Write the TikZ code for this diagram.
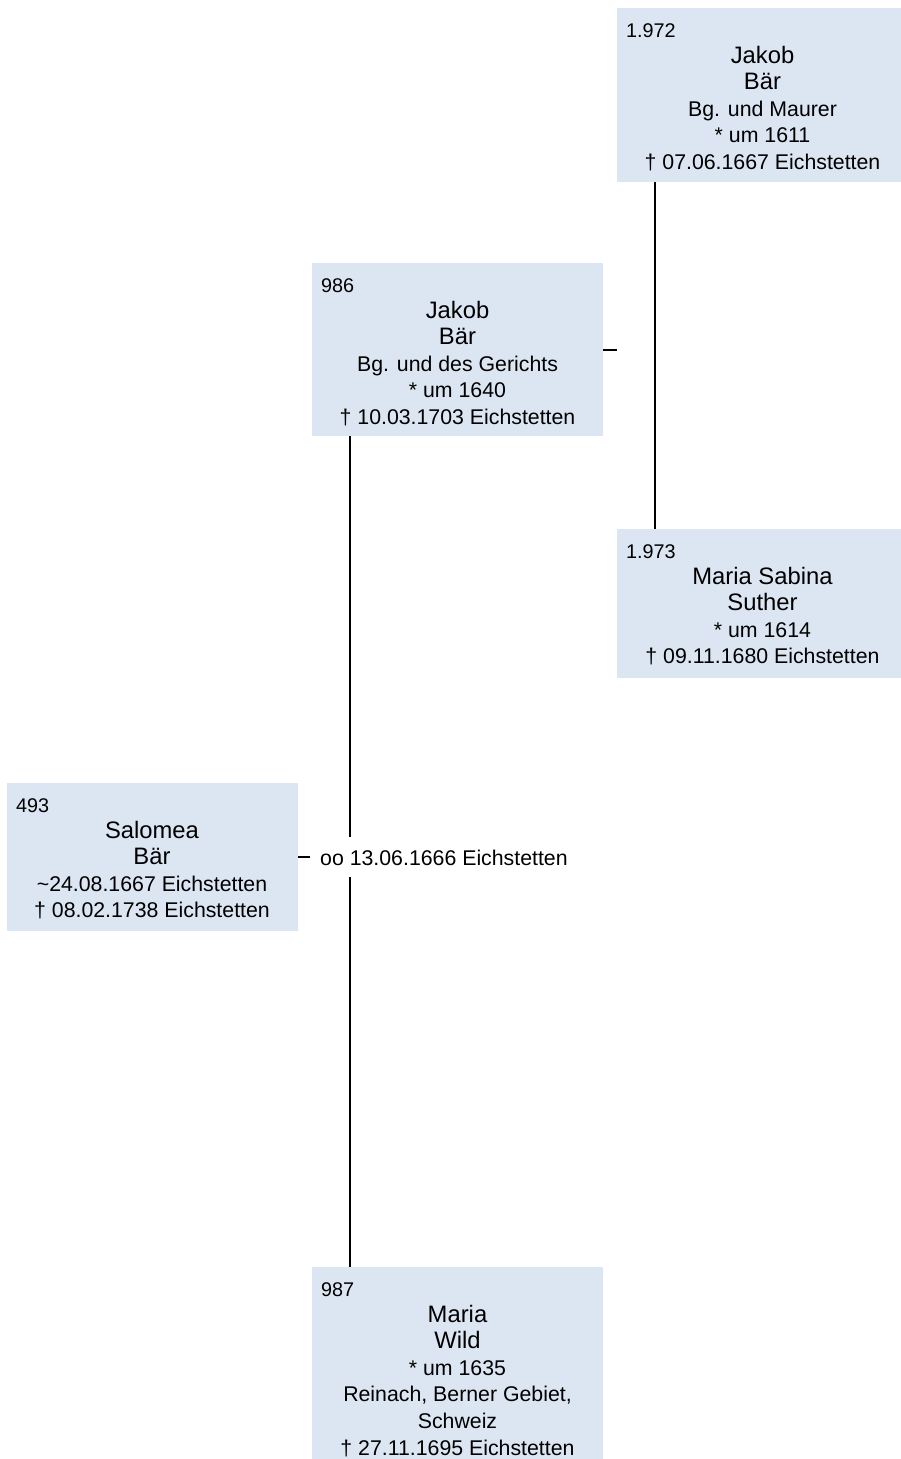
\documentclass[tikz,border=0pt]{standalone}
\usepackage{fontspec}
\setmainfont{Liberation Sans}
\definecolor{boxfill}{RGB}{220,230,242}
\newcommand\fnm{\fontsize{23.8}{27}\selectfont}
\newcommand\fdt{\fontsize{21.3}{25}\selectfont}
\newcommand\fnb{\fontsize{19.8}{24}\selectfont}
\tikzset{
  pbox/.style={fill=boxfill, draw=none, anchor=north west, inner sep=0pt, minimum width=291pt},
  numtxt/.style={anchor=base west, inner sep=0pt, font=\fnb},
  linetxt/.style={anchor=base, inner sep=0pt, font=\fdt},
  conn/.style={line width=2.2pt, black},
}
\newcommand\person[7]{%
  \node[pbox, minimum height=#4pt] (#1) at (#2,#3) {};
  \node[numtxt] (#1-nr) at ({#2+9},{#3+29.5}) {#5};
  \foreach \lt [count=\i] in {#7} {\node[linetxt] (#1-\i) at ({#6},{#3+55+(\i-1)*26.6}) {\lt};}
}
\begin{document}
\begin{tikzpicture}[x=1pt,y=-1pt]
\useasboundingbox (0,0) rectangle (901,1459);
\clip (0,0) rectangle (901,1459);
\person{b1972}{617}{8}{174}{1.972}{762.5}{{\fnm Jakob},{\fnm Bär},{Bg. und Maurer},{* um 1611},{† 07.06.1667 Eichstetten}}
\person{b986}{312}{263}{173}{986}{457.5}{{\fnm Jakob},{\fnm Bär},{Bg. und des Gerichts},{* um 1640},{† 10.03.1703 Eichstetten}}
\person{b1973}{617}{529}{149}{1.973}{762.5}{{\fnm Maria Sabina},{\fnm Suther},{* um 1614},{† 09.11.1680 Eichstetten}}
\person{b493}{7}{783}{148}{493}{152}{{\fnm Salomea},{\fnm Bär},{\textasciitilde24.08.1667 Eichstetten},{† 08.02.1738 Eichstetten}}
\person{b987}{312}{1267}{200}{987}{457.5}{{\fnm Maria},{\fnm Wild},{* um 1635},{Reinach, Berner Gebiet,},{Schweiz},{† 27.11.1695 Eichstetten}}
\node[linetxt, anchor=base west] (marr) at (320,865.5) {oo 13.06.1666 Eichstetten};
\coordinate (gapTop) at (350,837);
\coordinate (gapBot) at (350,877);
\draw[conn] ([xshift=38pt]b1972.south west) -- ([xshift=38pt]b1973.north west);
\draw[conn] (b986.east) -- ++(14,0);
\draw[conn] ([xshift=38pt]b986.south west) -- (gapTop);
\draw[conn] (gapBot) -- ([xshift=38pt]b987.north west);
\draw[conn] (b493.east) -- ++(12,0);
\end{tikzpicture}
\end{document}
